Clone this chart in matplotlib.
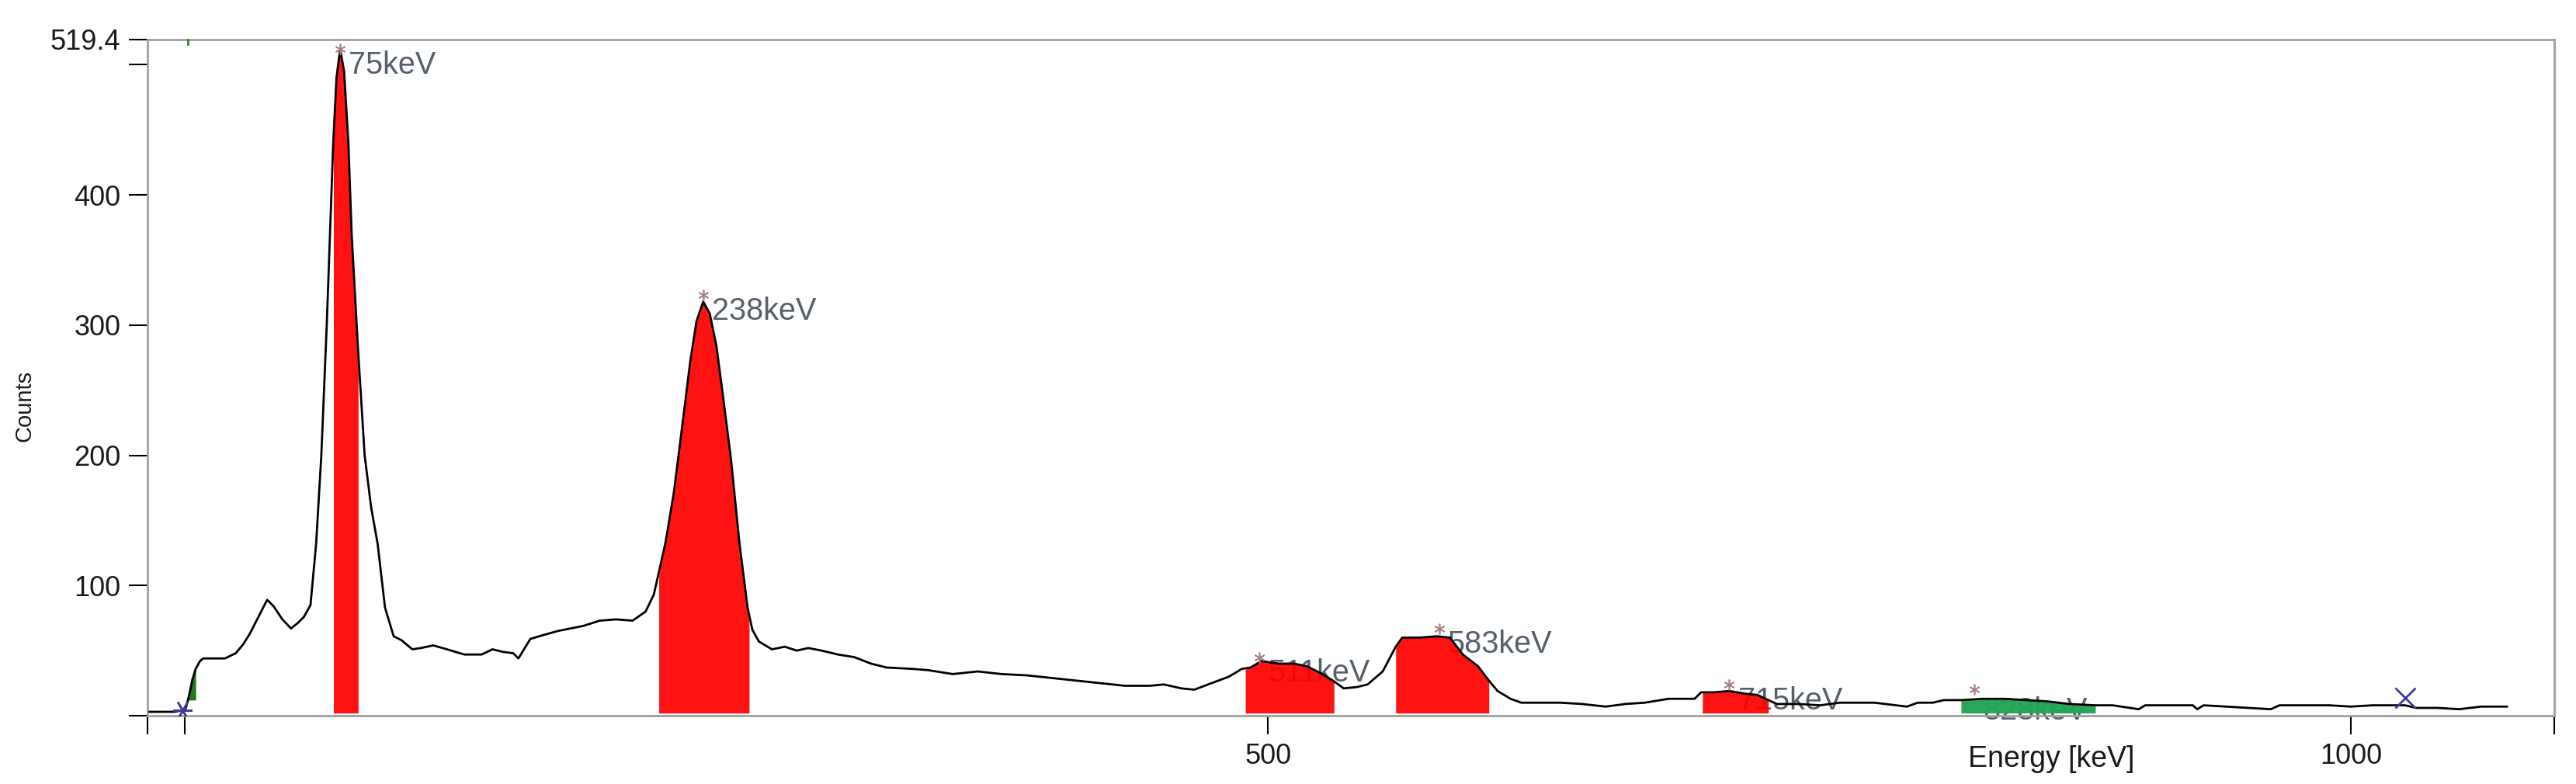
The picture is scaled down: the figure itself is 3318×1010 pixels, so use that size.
import numpy as np
import matplotlib
matplotlib.use('Agg')
import matplotlib.pyplot as plt

plt.rcParams['font.family'] = ['Liberation Sans', 'DejaVu Sans']

# spectrum (energy in keV, counts)
energy = [-16.3, -10, -5, -1.5, 0.5, 2, 3.5, 5, 7, 8.5, 12, 18.5, 23.5, 27, 30, 34, 38, 41,
          45, 49, 52, 55, 58, 60.6, 63, 65.5, 67, 68.5, 70, 71.7, 73.5, 75.5, 77, 80, 83, 86,
          89, 92.4, 96.4, 100, 105, 109, 114.7, 121, 129, 137, 142, 147, 151.6, 154, 159.5,
          165.6, 172, 178, 184, 191.5, 199, 206.7, 212.7, 216.5, 218.8, 221.9, 225.7, 229.5,
          233.3, 236.2, 239.3, 242.3, 245.4, 248.4, 252.2, 256, 259.8, 262, 265, 271, 277,
          282.5, 287.8, 294, 301.5, 309, 316.8, 324, 335.6, 343, 354.5, 366, 377, 388.7, 400,
          411.4, 422.8, 434, 445.5, 452, 460, 466, 474, 482, 488, 492, 497, 505, 512, 518,
          524, 530, 535, 541, 546, 553, 559, 562, 570, 578, 584, 590, 597, 602, 606, 612,
          617, 625, 635, 645, 656, 665, 674, 685, 697, 700, 706, 713, 720, 726, 731, 735,
          745, 755, 764, 780, 795, 800, 807, 812, 820, 830, 840, 850, 860, 870, 882, 890,
          902, 905, 927, 929, 932, 963, 967, 990, 1000, 1010, 1025, 1030, 1040, 1050, 1060,
          1072]
counts = [3, 3, 3, 4, 6, 16, 28, 36, 42, 44, 44, 44, 48, 55, 63, 76, 89, 84,
          74, 67, 71, 76, 85, 132, 200, 300, 370, 440, 490, 512, 495, 440, 370, 280, 200, 160,
          132, 83, 61, 58, 51, 52, 54, 51, 47, 47, 51, 49, 48, 44, 59,
          62, 65, 67, 69, 73, 74, 73, 80, 93, 110, 133, 171, 221,
          272, 303, 318, 309, 284, 246, 196, 133, 83, 66, 57, 51, 53,
          50, 52, 50, 47, 45, 40, 37, 36, 35, 32, 34, 32, 31, 29,
          27, 25, 23, 23, 24, 21, 20, 25, 30, 36, 37, 42, 40, 40, 38,
          33, 27, 21, 22, 24, 34, 53, 60, 60, 61, 60, 47, 38, 27, 19, 13,
          10, 10, 10, 9, 7, 9, 10, 13, 13, 18, 18, 19, 17, 16, 12, 9,
          9, 8, 10, 10, 7, 10, 10, 12, 12, 13, 13, 12, 11, 9, 8, 8,
          5, 8, 8, 5, 8, 5, 8, 8, 7, 8, 8, 6, 6, 5, 7,
          7]

# regions of interest (keV)
red_rois = [(68.6, 80.0), (218.8, 260.5), (489.6, 530.5), (559.0, 602.0), (700.6, 731.0)]
green_rois = [(820.0, 882.0)]
low_roi = (1.0, 5.0)

# peak labels
peak_names = ['75keV', '238keV', '511keV', '583keV', '715keV', '828keV']
peak_energy = [71.7, 239.4, 496, 579, 713, 826]
peak_height = [509, 320, 42, 64, 21, 17]
label_drop = [11, 11, 11, 11, 12, 16]   # points below the marker

# cursor markers
cursor_energy = [-1.1, 1025]
cursor_counts = [4, 14]

x_ticks = [0, 500, 1000]
y_ticks = [0, 100, 200, 300, 400, 500, 519.4]
y_labels = ['', '100', '200', '300', '400', '', '519.4']

xmin, xmax = -17.2, 1093.9
ymax = 519.4

energy = np.array(energy, dtype=float)
counts = np.array(counts, dtype=float)


def roi_shape(a, b):
    inside = (energy > a) & (energy < b)
    xs = np.concatenate([[a], energy[inside], [b]])
    ys = np.interp(xs, energy, counts)
    return xs, ys


fig = plt.figure(figsize=(33.18, 10.10), dpi=100)
ax = fig.add_axes([0.0573, 0.0871, 0.9343, 0.8626])

# peak labels first so the fills sit over them like in the original
for name, e, h, d in zip(peak_names, peak_energy, peak_height, label_drop):
    ax.annotate(name, (e, h), xytext=(8, -d), textcoords='offset points',
                ha='left', va='center', fontsize=28.5, color='#56606a', zorder=2)

for a, b in red_rois:
    xs, ys = roi_shape(a, b)
    ax.fill_between(xs, 2, ys, color='#ff0000', alpha=0.93, lw=0, zorder=3)
for a, b in green_rois:
    xs, ys = roi_shape(a, b)
    ax.fill_between(xs, 2, ys, color='#22a455', alpha=0.96, lw=0, zorder=3)
xs, ys = roi_shape(*low_roi)
ax.fill_between(xs, 12, ys, color='#1d7a1d', lw=0, zorder=3)

ax.plot(energy, counts, color='black', lw=2, zorder=4)

ax.plot(peak_energy, np.array(peak_height) + 3, ls='none', marker=(6, 2, 0),
        ms=10, mew=1.2, color='#a88088', zorder=5)
ax.plot(cursor_energy[:1], cursor_counts[:1], ls='none', marker=(6, 2, 90),
        ms=18, mew=1.8, color='#3c3c96', zorder=5)
ax.plot(cursor_energy[1:], cursor_counts[1:], ls='none', marker='x',
        ms=19, mew=2, color='#3c3c96', zorder=5)
ax.plot([1.5, 1.5], [516, ymax], color='#2a8a2a', lw=2, zorder=5, clip_on=False)

ax.set_xlim(xmin, xmax)
ax.set_ylim(0, ymax)
ax.set_xticks([xmin] + x_ticks + [xmax])
ax.set_xticklabels(['', '', '500', '1000', ''])
ax.set_yticks(y_ticks)
ax.set_yticklabels(y_labels)
ax.tick_params(axis='both', direction='out', length=17, width=1.5,
               color='black', labelsize=26, pad=8, labelcolor='#1a1a1a')

for s in ax.spines.values():
    s.set_color('#a0a0a0')
    s.set_linewidth(2)

ax.text(0.791, -0.064, 'Energy [keV]', transform=ax.transAxes, ha='center',
        va='center', fontsize=27, color='#1a1a1a')
fig.text(0.0096, 0.482, 'Counts', rotation=90, ha='center', va='center',
         fontsize=21, color='#1a1a1a')

fig.savefig('out.png', dpi=100)
